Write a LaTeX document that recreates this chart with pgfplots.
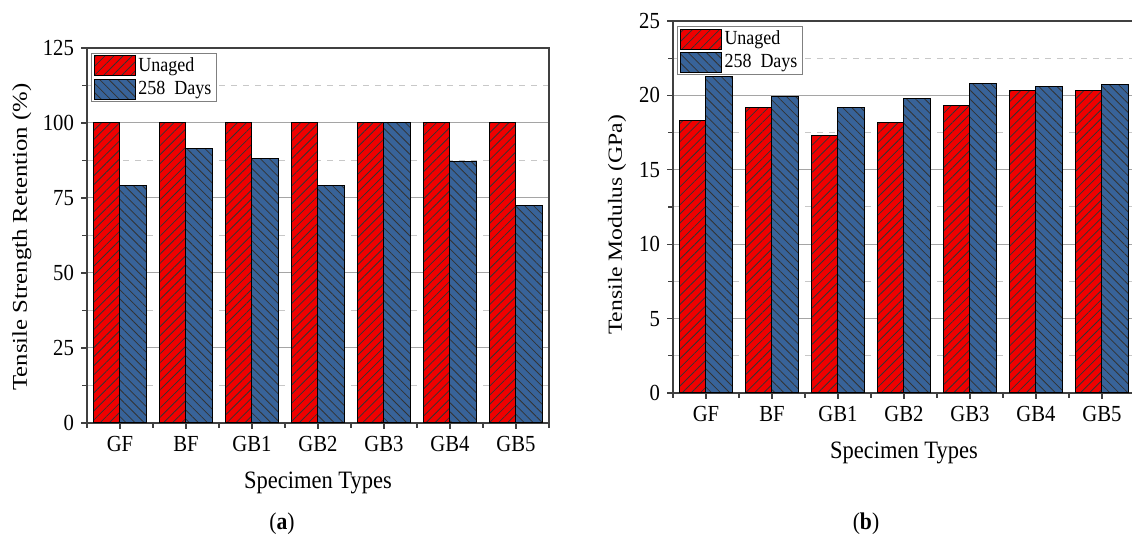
\documentclass[border=0pt]{standalone}
\usepackage{fontspec}
\setmainfont{Liberation Serif}[FakeStretch=0.9]
\newfontfamily\ylabfont{Liberation Serif}[FakeStretch=1.18]
\usepackage{pgfplots}
\pgfplotsset{compat=1.18}
\usetikzlibrary{patterns.meta}
\definecolor{barred}{RGB}{240,0,0}
\definecolor{barblue}{RGB}{56,99,153}
\definecolor{axgray}{RGB}{64,64,64}
\definecolor{gridmaj}{RGB}{165,165,165}
\definecolor{gridmin}{RGB}{200,200,200}
\pgfplotsset{
  mybar/.style={
    scale only axis, width=231pt,
    xmin=-0.5, xmax=6.5, ymin=0,
    xtick={0,...,6}, xticklabels={GF,BF,GB1,GB2,GB3,GB4,GB5},
    minor xtick={-0.5,0.5,...,6.5},
    minor y tick num=1,
    ymajorgrids, yminorgrids,
    major grid style={gridmaj, line width=0.5pt},
    minor grid style={gridmin, dashed, line width=0.5pt},
    tick pos=left, tick align=outside,
    major tick length=3pt, minor tick length=2.5pt,
    axis line style={axgray, line width=0.7pt},
    every tick/.style={axgray, line width=0.6pt},
    tick label style={font=\fontsize{11.5}{13}\selectfont},
    /pgf/number format/assume math mode=true,
    ybar=0pt, bar width=0.4,
    legend cell align=left,
    legend image code/.code={\draw[##1] (0pt,-5pt) rectangle (20.5pt,5pt);},
    legend style={draw=gray, line width=0.5pt, font=\fontsize{10}{11}\selectfont,
      at={(axis description cs:0,1)}, anchor=north west, xshift=2pt, yshift=-2.5pt,
      inner xsep=1pt, inner ysep=1pt, row sep=1.2pt,
      nodes={inner ysep=0.6pt, inner xsep=1.5pt},
      /tikz/every even column/.append style={column sep=2.5pt}},
    xlabel={Specimen Types},
    every axis x label/.style={at={(axis description cs:0.5,-0.16)}, anchor=center,
      font=\fontsize{12.5}{14}\selectfont},
  },
  redbar/.style={fill=barred, draw=black, line width=0.5pt,
    postaction={pattern={Lines[angle=45, distance=3.2pt, line width=0.4pt]}, pattern color=black!80}},
  bluebar/.style={fill=barblue, draw=black, line width=0.5pt,
    postaction={pattern={Lines[angle=-45, distance=3.2pt, line width=0.4pt]}, pattern color=black!80}},
}
\begin{document}
\begin{tikzpicture}
\useasboundingbox (0,0) rectangle (566pt,270.5pt);
% (a)
\begin{axis}[mybar, at={(43.5pt,59pt)}, anchor=south west, height=187.5pt,
  ymax=125, ytick={0,25,50,75,100,125},
  ylabel={Tensile Strength Retention (\%)},
  every axis y label/.style={at={(axis description cs:-0.141,0.496)}, rotate=90, anchor=center,
    font=\ylabfont\fontsize{10.5}{12}\selectfont}]
\addplot[redbar] coordinates {(0,100) (1,100) (2,100) (3,100) (4,100) (5,100) (6,100)};
\addplot[bluebar] coordinates {(0,79.2) (1,91.5) (2,88.2) (3,79.1) (4,100) (5,87.2) (6,72.6)};
\legend{Unaged, 258\ \ Days}
\end{axis}
% (b)
\begin{axis}[mybar, at={(336.5pt,74pt)}, anchor=south west, height=186pt,
  ymax=25, ytick={0,5,10,15,20,25},
  ylabel={Tensile Modulus (GPa)},
  every axis y label/.style={at={(axis description cs:-0.121,0.452)}, rotate=90, anchor=center,
    font=\ylabfont\fontsize{10}{12}\selectfont}]
\addplot[redbar] coordinates {(0,18.3) (1,19.2) (2,17.3) (3,18.2) (4,19.3) (5,20.3) (6,20.3)};
\addplot[bluebar] coordinates {(0,21.3) (1,19.9) (2,19.2) (3,19.8) (4,20.8) (5,20.6) (6,20.7)};
\legend{Unaged, 258\ \ Days}
\end{axis}
\node[font=\fontsize{12}{14}\selectfont] at (141pt,8.5pt) {(\textbf{a})};
\node[font=\fontsize{12}{14}\selectfont] at (433pt,8.5pt) {(\textbf{b})};
\end{tikzpicture}
\end{document}
